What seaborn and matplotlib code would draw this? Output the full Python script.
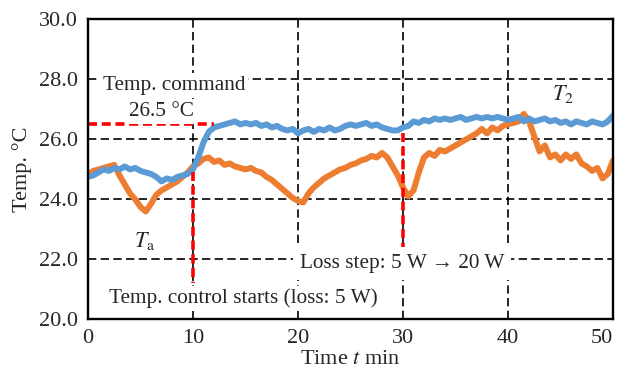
import matplotlib
matplotlib.use("Agg")
import matplotlib.pyplot as plt
import numpy as np
import pandas as pd
import seaborn as sns

# time axis, 0.5 min steps
time_min = np.arange(0, 50.5, 0.5)

# T2 (blue)
t2 = [24.75, 24.8, 24.9, 25.0, 24.95, 25.05, 25.0, 25.1, 25.0, 25.05,
      24.95, 24.9, 24.85, 24.75, 24.6, 24.7, 24.65, 24.75, 24.8, 24.85,
      25.0, 25.4, 25.9, 26.25, 26.4, 26.45, 26.5, 26.55, 26.6, 26.5,
      26.55, 26.5, 26.55, 26.45, 26.5, 26.4, 26.45, 26.35, 26.3, 26.35,
      26.2, 26.3, 26.35, 26.25, 26.35, 26.3, 26.4, 26.3, 26.35, 26.45,
      26.5, 26.45, 26.5, 26.55, 26.45, 26.5, 26.4, 26.35, 26.3, 26.3,
      26.4, 26.45, 26.6, 26.55, 26.65, 26.6, 26.7, 26.65, 26.7, 26.65,
      26.7, 26.75, 26.65, 26.7, 26.75, 26.7, 26.75, 26.7, 26.75, 26.7,
      26.65, 26.7, 26.75, 26.6, 26.7, 26.6, 26.65, 26.7, 26.6, 26.65,
      26.55, 26.6, 26.5, 26.6, 26.55, 26.5, 26.6, 26.55, 26.5, 26.6,
      26.8]

# Ta (orange)
ta = [24.85, 24.95, 25.0, 25.05, 25.1, 25.15, 24.8, 24.5, 24.2, 24.0,
      23.75, 23.6, 23.85, 24.15, 24.3, 24.4, 24.5, 24.6, 24.75, 24.9,
      25.1, 25.2, 25.35, 25.4, 25.25, 25.3, 25.15, 25.2, 25.1, 25.05,
      25.0, 25.05, 24.95, 24.9, 24.75, 24.65, 24.5, 24.35, 24.2, 24.05,
      23.95, 23.9, 24.2, 24.4, 24.55, 24.7, 24.8, 24.9, 25.0, 25.05,
      25.15, 25.2, 25.3, 25.35, 25.45, 25.4, 25.55, 25.4, 25.1, 24.8,
      24.4, 24.1, 24.3, 24.9, 25.4, 25.55, 25.45, 25.65, 25.6, 25.7,
      25.8, 25.9, 26.0, 26.1, 26.2, 26.35, 26.2, 26.4, 26.3, 26.45,
      26.5, 26.55, 26.6, 26.85, 26.6, 26.1, 25.6, 25.8, 25.4, 25.5,
      25.3, 25.5, 25.35, 25.5, 25.2, 25.1, 24.95, 25.05, 24.7, 24.85,
      25.3]

temp_command = 26.5
control_start = 10
loss_step = 30

df = pd.DataFrame({"time": time_min, "T2": t2, "Ta": ta})

sns.set_style("white")
plt.rcParams["font.family"] = ["Liberation Serif", "DejaVu Serif"]
plt.rcParams["mathtext.fontset"] = "stix"

fig = plt.figure(figsize=(6.17, 3.74), dpi=100)
ax = fig.add_axes([0.1426, 0.146, 0.851, 0.802])

sns.lineplot(data=df, x="time", y="Ta", color="#ED7D31", lw=4.3, ax=ax)
sns.lineplot(data=df, x="time", y="T2", color="#5B9BD5", lw=4.3, ax=ax)

# red marker lines
red_kw = dict(color="red", lw=2.6, dashes=(2.5, 1.3))
ax.plot([0, 12], [temp_command, temp_command], **red_kw)
ax.plot([control_start, control_start], [24.9, 21.2], **red_kw)
ax.plot([loss_step, loss_step], [26.2, 22.4], **red_kw)

ax.set_xlim(0, 50)
ax.set_ylim(20, 30)
ax.set_xticks(range(0, 51, 10))
ax.set_yticks(np.arange(20, 30.1, 2))
ax.set_yticklabels([f"{v:.1f}" for v in np.arange(20, 30.1, 2)])
ax.tick_params(length=0, labelsize=16, pad=7)
ax.get_xticklabels()[-1].set_ha("right")
ax.get_xticklabels()[-1].set_x(50.2)
ax.grid(True, color="black", lw=1.2, ls=(0, (5, 2.6)))
ax.set_axisbelow(True)
for s in ax.spines.values():
    s.set_color("black")
    s.set_linewidth(1.7)

ax.set_xlabel("Time $t$ min", fontsize=16, labelpad=1)
ax.set_ylabel("Temp. °C", fontsize=16, labelpad=5)

box = dict(facecolor="white", edgecolor="none", pad=2)
ax.text(8.2, 27.8, "Temp. command", fontsize=15.3, ha="center", va="center", bbox=box)
ax.text(7.0, 26.93, "26.5 °C", fontsize=15.3, ha="center", va="center", bbox=box)
ax.text(29.9, 21.85, "Loss step: 5 W → 20 W", fontsize=15.3, ha="center", va="center",
        bbox=dict(facecolor="white", edgecolor="none", pad=5))
ax.text(14.8, 20.7, "Temp. control starts (loss: 5 W)", fontsize=15.3, ha="center",
        va="center", bbox=box)
ax.text(45.2, 27.5, "$T_2$", fontsize=16, ha="center", va="center", bbox=box)
ax.text(5.4, 22.6, r"$T_\mathrm{a}$", fontsize=16, ha="center", va="center")

fig.savefig("out.png", dpi=100)
